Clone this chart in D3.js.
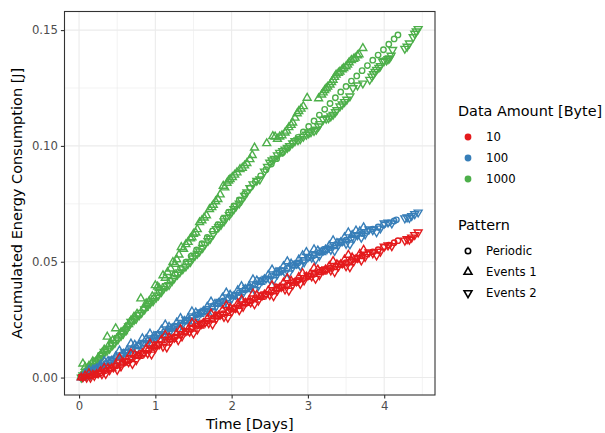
<!DOCTYPE html>
<html>
<head>
<meta charset="utf-8">
<script src="https://cdn.jsdelivr.net/npm/d3@7"></script>
<style>
body { margin: 0; background: #fff; }
text { font-family: "DejaVu Sans", sans-serif; }
</style>
</head>
<body>
<div id="chart"></div>
<script>
// categories and ticks
var amounts = ["10", "100", "1000"];
var patterns = ["Periodic", "Events 1", "Events 2"];
var xTicks = [0, 1, 2, 3, 4];
var yTicks = [0, 0.05, 0.10, 0.15];

// [days, joules]
var periodic10 = [[0.03,0],[0.07,0.0002],[0.14,0.0006],[0.21,0.0012],[0.28,0.0020],[0.35,0.0030],[0.42,0.0041],[0.49,0.0051],[0.56,0.0061],[0.63,0.0071],[0.70,0.0082],[0.77,0.0094],[0.84,0.0106],[0.91,0.0118],[0.98,0.0130],[1.05,0.0142],[1.12,0.0153],[1.19,0.0164],[1.26,0.0175],[1.33,0.0186],[1.40,0.0198],[1.47,0.0210],[1.54,0.0221],[1.61,0.0232],[1.68,0.0243],[1.75,0.0254],[1.82,0.0265],[1.89,0.0276],[1.96,0.0288],[2.03,0.0299],[2.10,0.0310],[2.17,0.0320],[2.24,0.0331],[2.31,0.0341],[2.38,0.0351],[2.45,0.0361],[2.52,0.0371],[2.59,0.0381],[2.66,0.0391],[2.73,0.0400],[2.80,0.0410],[2.87,0.0419],[2.94,0.0429],[3.01,0.0438],[3.08,0.0447],[3.15,0.0456],[3.22,0.0464],[3.29,0.0472],[3.36,0.0480],[3.43,0.0488],[3.50,0.0496],[3.57,0.0505],[3.64,0.0515],[3.71,0.0525],[3.78,0.0534],[3.85,0.0543],[3.92,0.0552],[3.99,0.0562],[4.06,0.0572],[4.13,0.0582],[4.18,0.0591]];
var events1_10 = [[0.03,0],[0.08,0.0008],[0.13,0.0018],[0.18,0.0011],[0.23,0.0014],[0.28,0.0027],[0.33,0.0041],[0.38,0.0040],[0.43,0.0040],[0.48,0.0056],[0.53,0.0085],[0.58,0.0064],[0.63,0.0076],[0.68,0.0104],[0.73,0.0099],[0.78,0.0093],[0.83,0.0104],[0.88,0.0123],[0.93,0.0146],[0.98,0.0135],[1.03,0.0139],[1.08,0.0162],[1.13,0.0183],[1.18,0.0173],[1.23,0.0166],[1.28,0.0190],[1.33,0.0208],[1.38,0.0195],[1.43,0.0208],[1.48,0.0236],[1.53,0.0231],[1.58,0.0224],[1.63,0.0235],[1.68,0.0253],[1.73,0.0276],[1.78,0.0264],[1.83,0.0267],[1.88,0.0290],[1.93,0.0311],[1.98,0.0301],[2.03,0.0294],[2.08,0.0319],[2.13,0.0336],[2.18,0.0322],[2.23,0.0334],[2.28,0.0362],[2.33,0.0356],[2.38,0.0348],[2.43,0.0358],[2.48,0.0375],[2.53,0.0398],[2.58,0.0385],[2.63,0.0387],[2.68,0.0409],[2.73,0.0428],[2.78,0.0417],[2.83,0.0409],[2.88,0.0433],[2.93,0.0450],[2.98,0.0435],[3.03,0.0446],[3.08,0.0472],[3.13,0.0466],[3.18,0.0457],[3.23,0.0466],[3.28,0.0481],[3.33,0.0502],[3.38,0.0488],[3.43,0.0488],[3.48,0.0509],[3.53,0.0529],[3.58,0.0518],[3.63,0.0510],[3.68,0.0534],[3.73,0.0551]];
var events2_10 = [[0.05,0.0002],[0.10,0],[0.15,0],[0.20,0.0008],[0.25,0.0018],[0.30,0.0015],[0.35,0.0016],[0.40,0.0033],[0.45,0.0044],[0.50,0.0034],[0.55,0.0049],[0.60,0.0070],[0.65,0.0067],[0.70,0.0059],[0.75,0.0076],[0.80,0.0100],[0.85,0.0106],[0.90,0.0105],[0.95,0.0100],[1.00,0.0127],[1.05,0.0144],[1.10,0.0134],[1.15,0.0131],[1.20,0.0157],[1.25,0.0173],[1.30,0.0162],[1.35,0.0178],[1.40,0.0201],[1.45,0.0199],[1.50,0.0191],[1.55,0.0208],[1.60,0.0231],[1.65,0.0237],[1.70,0.0235],[1.75,0.0230],[1.80,0.0256],[1.85,0.0272],[1.90,0.0262],[1.95,0.0259],[2.00,0.0285],[2.05,0.0301],[2.10,0.0291],[2.15,0.0306],[2.20,0.0328],[2.25,0.0325],[2.30,0.0317],[2.35,0.0333],[2.40,0.0355],[2.45,0.0360],[2.50,0.0357],[2.55,0.0352],[2.60,0.0377],[2.65,0.0392],[2.70,0.0381],[2.75,0.0376],[2.80,0.0401],[2.85,0.0416],[2.90,0.0405],[2.95,0.0420],[3.00,0.0441],[3.05,0.0437],[3.10,0.0427],[3.15,0.0443],[3.20,0.0464],[3.25,0.0468],[3.30,0.0463],[3.35,0.0456],[3.40,0.0480],[3.45,0.0493],[3.50,0.0481],[3.55,0.0477],[3.60,0.0502],[3.65,0.0517],[3.70,0.0506],[3.75,0.0521],[3.80,0.0541],[3.85,0.0537],[3.90,0.0528],[3.95,0.0544],[4.00,0.0566],[4.05,0.0571],[4.10,0.0568],[4.27,0.0592],[4.30,0.0598],[4.33,0.0596],[4.36,0.0605],[4.40,0.0616],[4.445,0.0627]];

var periodic100 = [[0.03,0],[0.07,0.0010],[0.14,0.0022],[0.21,0.0035],[0.28,0.0048],[0.35,0.0061],[0.42,0.0074],[0.49,0.0087],[0.56,0.0099],[0.63,0.0112],[0.70,0.0124],[0.77,0.0137],[0.84,0.0149],[0.91,0.0161],[0.98,0.0173],[1.05,0.0186],[1.12,0.0198],[1.19,0.0210],[1.26,0.0222],[1.33,0.0234],[1.40,0.0246],[1.47,0.0258],[1.54,0.0270],[1.61,0.0283],[1.68,0.0295],[1.75,0.0307],[1.82,0.0319],[1.89,0.0331],[1.96,0.0343],[2.03,0.0355],[2.10,0.0367],[2.17,0.0379],[2.24,0.0391],[2.31,0.0403],[2.38,0.0415],[2.45,0.0427],[2.52,0.0439],[2.59,0.0451],[2.66,0.0462],[2.73,0.0473],[2.80,0.0484],[2.87,0.0495],[2.94,0.0506],[3.01,0.0517],[3.08,0.0528],[3.15,0.0539],[3.22,0.0550],[3.29,0.0561],[3.36,0.0572],[3.43,0.0583],[3.50,0.0593],[3.57,0.0603],[3.64,0.0613],[3.71,0.0622],[3.78,0.0632],[3.85,0.0641],[3.92,0.0650],[3.99,0.0659],[4.06,0.0668],[4.13,0.0676],[4.16,0.0681]];
var events1_100 = [[0.03,0],[0.08,0.0017],[0.13,0.0033],[0.18,0.0033],[0.23,0.0039],[0.28,0.0055],[0.33,0.0071],[0.38,0.0071],[0.43,0.0073],[0.48,0.0091],[0.53,0.0116],[0.58,0.0102],[0.63,0.0117],[0.68,0.0146],[0.73,0.0141],[0.78,0.0135],[0.83,0.0169],[0.88,0.0166],[0.93,0.0189],[0.98,0.0178],[1.03,0.0182],[1.08,0.0206],[1.13,0.0228],[1.18,0.0218],[1.23,0.0212],[1.28,0.0237],[1.33,0.0256],[1.38,0.0243],[1.43,0.0256],[1.48,0.0285],[1.53,0.0280],[1.58,0.0274],[1.63,0.0286],[1.68,0.0305],[1.73,0.0328],[1.78,0.0317],[1.83,0.0321],[1.88,0.0344],[1.93,0.0366],[1.98,0.0357],[2.03,0.0350],[2.08,0.0376],[2.13,0.0394],[2.18,0.0381],[2.23,0.0394],[2.28,0.0423],[2.33,0.0418],[2.38,0.0412],[2.43,0.0424],[2.48,0.0442],[2.53,0.0466],[2.58,0.0454],[2.63,0.0457],[2.68,0.0480],[2.73,0.0501],[2.78,0.0491],[2.83,0.0484],[2.88,0.0509],[2.93,0.0527],[2.98,0.0541],[3.03,0.0526],[3.08,0.0553],[3.13,0.0548],[3.18,0.0541],[3.23,0.0552],[3.28,0.0569],[3.33,0.0592],[3.38,0.0580],[3.43,0.0583],[3.48,0.0605],[3.53,0.0626],[3.58,0.0615],[3.63,0.0634],[3.68,0.0631],[3.73,0.0648]];
var events2_100 = [[0.05,0.0003],[0.10,0.0010],[0.15,0.0012],[0.20,0.0031],[0.25,0.0044],[0.30,0.0044],[0.35,0.0047],[0.40,0.0065],[0.45,0.0079],[0.50,0.0070],[0.55,0.0087],[0.60,0.0109],[0.65,0.0109],[0.70,0.0102],[0.75,0.0119],[0.80,0.0143],[0.85,0.0150],[0.90,0.0149],[0.95,0.0144],[1.00,0.0171],[1.05,0.0188],[1.10,0.0179],[1.15,0.0177],[1.20,0.0203],[1.25,0.0220],[1.30,0.0210],[1.35,0.0227],[1.40,0.0250],[1.45,0.0248],[1.50,0.0241],[1.55,0.0258],[1.60,0.0282],[1.65,0.0289],[1.70,0.0288],[1.75,0.0283],[1.80,0.0310],[1.85,0.0327],[1.90,0.0317],[1.95,0.0315],[2.00,0.0342],[2.05,0.0358],[2.10,0.0349],[2.15,0.0365],[2.20,0.0388],[2.25,0.0386],[2.30,0.0379],[2.35,0.0396],[2.40,0.0420],[2.45,0.0427],[2.50,0.0425],[2.55,0.0421],[2.60,0.0447],[2.65,0.0463],[2.70,0.0453],[2.75,0.0450],[2.80,0.0476],[2.85,0.0492],[2.90,0.0482],[2.95,0.0498],[3.00,0.0520],[3.05,0.0518],[3.10,0.0509],[3.15,0.0526],[3.20,0.0549],[3.25,0.0555],[3.30,0.0552],[3.35,0.0547],[3.40,0.0573],[3.45,0.0589],[3.50,0.0578],[3.55,0.0575],[3.60,0.0600],[3.65,0.0615],[3.70,0.0604],[3.75,0.0619],[3.80,0.0640],[3.85,0.0637],[3.90,0.0628],[3.95,0.0644],[4.00,0.0666],[4.05,0.0670],[4.10,0.0666],[4.27,0.0688],[4.30,0.0692],[4.33,0.0690],[4.36,0.0698],[4.40,0.0706],[4.445,0.0713]];

var periodic1000 = [[0.03,0],[0.07,0.0024],[0.14,0.0049],[0.21,0.0073],[0.28,0.0098],[0.35,0.0122],[0.42,0.0147],[0.49,0.0171],[0.56,0.0196],[0.63,0.0220],[0.70,0.0245],[0.77,0.0270],[0.84,0.0294],[0.91,0.0319],[0.98,0.0343],[1.05,0.0369],[1.12,0.0395],[1.19,0.0421],[1.26,0.0447],[1.33,0.0472],[1.40,0.0498],[1.47,0.0524],[1.54,0.0551],[1.61,0.0578],[1.68,0.0605],[1.75,0.0633],[1.82,0.0660],[1.89,0.0687],[1.96,0.0714],[2.03,0.0741],[2.10,0.0767],[2.17,0.0793],[2.24,0.0819],[2.31,0.0845],[2.38,0.0871],[2.45,0.0897],[2.52,0.0922],[2.59,0.0945],[2.66,0.0968],[2.73,0.0991],[2.80,0.1014],[2.87,0.1037],[2.94,0.1060],[3.01,0.1084],[3.08,0.1108],[3.15,0.1133],[3.22,0.1158],[3.29,0.1183],[3.36,0.1208],[3.43,0.1233],[3.50,0.1257],[3.57,0.1280],[3.64,0.1302],[3.71,0.1325],[3.78,0.1347],[3.85,0.1370],[3.92,0.1392],[3.99,0.1415],[4.06,0.1439],[4.13,0.1462],[4.18,0.1479]];
var events1_1000 = [[0.03,0.0004],[0.05,0.0060],[0.08,0.0045],[0.10,0.0030],[0.13,0.0050],[0.15,0.0045],[0.18,0.0070],[0.20,0.0060],[0.23,0.0068],[0.25,0.0085],[0.28,0.0095],[0.30,0.0105],[0.33,0.0120],[0.37,0.0176],[0.40,0.0145],[0.44,0.0160],[0.48,0.0212],[0.52,0.0180],[0.55,0.0195],[0.58,0.0200],[0.61,0.0215],[0.65,0.0230],[0.68,0.0245],[0.72,0.0262],[0.76,0.0275],[0.81,0.0341],[0.85,0.0300],[0.88,0.0320],[0.92,0.0330],[0.96,0.0350],[1.00,0.0398],[1.03,0.0392],[1.05,0.0385],[1.10,0.0441],[1.13,0.0430],[1.16,0.0455],[1.20,0.0470],[1.23,0.0498],[1.26,0.0490],[1.28,0.0510],[1.31,0.0530],[1.34,0.0563],[1.37,0.0555],[1.40,0.0575],[1.43,0.0585],[1.46,0.0600],[1.48,0.0605],[1.50,0.0620],[1.53,0.0625],[1.55,0.0640],[1.58,0.0670],[1.61,0.0678],[1.64,0.0690],[1.67,0.0700],[1.71,0.0727],[1.74,0.0735],[1.76,0.0745],[1.79,0.0760],[1.82,0.0770],[1.85,0.0790],[1.89,0.0827],[1.91,0.0820],[1.94,0.0840],[1.96,0.0850],[1.98,0.0856],[2.01,0.0865],[2.04,0.0875],[2.07,0.0885],[2.11,0.0899],[2.14,0.0905],[2.17,0.0915],[2.20,0.0925],[2.24,0.0942],[2.27,0.0960],[2.30,0.0992],[2.46,0.1011],[2.54,0.1042],[2.57,0.1040],[2.60,0.1030],[2.63,0.1040],[2.66,0.1045],[2.70,0.1057],[2.72,0.1065],[2.75,0.1080],[2.78,0.1090],[2.80,0.1100],[2.83,0.1121],[2.86,0.1140],[2.88,0.1150],[2.91,0.1160],[2.94,0.1171],[2.99,0.1207],[3.14,0.1205],[3.18,0.1221],[3.20,0.1230],[3.22,0.1240],[3.24,0.1248],[3.26,0.1255],[3.29,0.1264],[3.31,0.1275],[3.33,0.1285],[3.35,0.1297],[3.37,0.1307],[3.40,0.1315],[3.42,0.1320],[3.45,0.1330],[3.47,0.1335],[3.50,0.1343],[3.52,0.1350],[3.54,0.1360],[3.57,0.1370],[3.60,0.1375],[3.62,0.1380],[3.65,0.1390],[3.67,0.1395],[3.72,0.1422]];
var events2_1000 = [[0.03,0],[0.05,0.0010],[0.08,0.0015],[0.12,0.0030],[0.15,0.0040],[0.18,0.0050],[0.22,0.0062],[0.25,0.0070],[0.28,0.0080],[0.31,0.0095],[0.33,0.0112],[0.37,0.0118],[0.40,0.0125],[0.44,0.0140],[0.47,0.0150],[0.51,0.0165],[0.55,0.0180],[0.58,0.0190],[0.62,0.0205],[0.65,0.0222],[0.68,0.0241],[0.72,0.0248],[0.75,0.0255],[0.79,0.0270],[0.82,0.0280],[0.86,0.0295],[0.90,0.0310],[0.93,0.0320],[0.97,0.0330],[1.01,0.0345],[1.04,0.0355],[1.08,0.0370],[1.11,0.0384],[1.15,0.0395],[1.18,0.0400],[1.22,0.0418],[1.25,0.0430],[1.29,0.0445],[1.32,0.0455],[1.36,0.0468],[1.40,0.0480],[1.43,0.0492],[1.46,0.0500],[1.49,0.0515],[1.52,0.0527],[1.55,0.0535],[1.58,0.0545],[1.62,0.0560],[1.65,0.0575],[1.69,0.0590],[1.72,0.0600],[1.76,0.0620],[1.80,0.0641],[1.83,0.0650],[1.86,0.0660],[1.90,0.0675],[1.93,0.0690],[1.97,0.0702],[2.00,0.0715],[2.03,0.0728],[2.06,0.0740],[2.10,0.0752],[2.13,0.0765],[2.17,0.0785],[2.20,0.0800],[2.24,0.0818],[2.28,0.0835],[2.33,0.0850],[2.37,0.0856],[2.43,0.0890],[2.47,0.0910],[2.50,0.0928],[2.53,0.0938],[2.56,0.0945],[2.60,0.0960],[2.63,0.0971],[2.67,0.0978],[2.70,0.0985],[2.73,0.0992],[2.76,0.1000],[2.80,0.1012],[2.83,0.1021],[2.87,0.1025],[2.90,0.1030],[2.94,0.1040],[2.98,0.1049],[3.01,0.1055],[3.04,0.1060],[3.08,0.1065],[3.11,0.1071],[3.14,0.1085],[3.16,0.1095],[3.20,0.1114],[3.24,0.1118],[3.27,0.1120],[3.30,0.1128],[3.33,0.1135],[3.36,0.1146],[3.38,0.1155],[3.42,0.1171],[3.45,0.1180],[3.48,0.1190],[3.51,0.1200],[3.55,0.1214],[3.59,0.1250],[3.65,0.1262],[3.72,0.1270],[3.81,0.1286],[3.84,0.1300],[3.86,0.1310],[3.88,0.1320],[3.90,0.1329],[3.93,0.1338],[3.95,0.1345],[3.98,0.1364],[4.00,0.1367],[4.03,0.1370],[4.05,0.1375],[4.07,0.1379],[4.09,0.1390],[4.11,0.1415],[4.27,0.1420],[4.30,0.1429],[4.33,0.1443],[4.38,0.1470],[4.40,0.1485],[4.42,0.1495],[4.445,0.1505]];

// table of series, drawing order as in the plot
var series = [
	{amount: "1000", pattern: "Periodic", values: periodic1000},
	{amount: "1000", pattern: "Events 1", values: events1_1000},
	{amount: "1000", pattern: "Events 2", values: events2_1000},
	{amount: "100", pattern: "Periodic", values: periodic100},
	{amount: "100", pattern: "Events 1", values: events1_100},
	{amount: "100", pattern: "Events 2", values: events2_100},
	{amount: "10", pattern: "Periodic", values: periodic10},
	{amount: "10", pattern: "Events 1", values: events1_10},
	{amount: "10", pattern: "Events 2", values: events2_10}
];

var width = 605, height = 433;
var panel = {left: 64.5, right: 435, top: 11.5, bottom: 395};

var svg = d3.select("#chart").append("svg")
	.attr("width", width)
	.attr("height", height)
	.style("display", "block");
svg.append("rect").attr("width", width).attr("height", height).attr("fill", "#fff");

// ggplot style 5% expansion of the data range
var allPts = [];
for (s of series) allPts = allPts.concat(s.values);
var xExt = d3.extent(allPts, function(d) { return d[0]; });
var yExt = d3.extent(allPts, function(d) { return d[1]; });
var xPad = (xExt[1] - xExt[0]) * 0.05, yPad = (yExt[1] - yExt[0]) * 0.05;

var x = d3.scaleLinear().domain([xExt[0] - xPad, xExt[1] + xPad]).range([panel.left, panel.right]);
var y = d3.scaleLinear().domain([yExt[0] - yPad, yExt[1] + yPad]).range([panel.bottom, panel.top]);

var color = d3.scaleOrdinal().domain(amounts).range(["#E41A1C", "#377EB8", "#4DAF4A"]);

// grid
var grid = svg.append("g");
var xMinor = xTicks.map(function(t) { return t + 0.5; }).filter(function(t) { return t < x.domain()[1]; });
var yMinor = yTicks.map(function(t) { return t + 0.025; }).filter(function(t) { return t < y.domain()[1]; });
grid.selectAll(".xm").data(xMinor).enter().append("line")
	.attr("x1", function(d) { return x(d); }).attr("x2", function(d) { return x(d); })
	.attr("y1", panel.top).attr("y2", panel.bottom)
	.attr("stroke", "#ebebeb").attr("stroke-width", 0.6);
grid.selectAll(".ym").data(yMinor).enter().append("line")
	.attr("y1", function(d) { return y(d); }).attr("y2", function(d) { return y(d); })
	.attr("x1", panel.left).attr("x2", panel.right)
	.attr("stroke", "#ebebeb").attr("stroke-width", 0.6);
grid.selectAll(".xM").data(xTicks).enter().append("line")
	.attr("x1", function(d) { return x(d); }).attr("x2", function(d) { return x(d); })
	.attr("y1", panel.top).attr("y2", panel.bottom)
	.attr("stroke", "#ebebeb").attr("stroke-width", 1.1);
grid.selectAll(".yM").data(yTicks).enter().append("line")
	.attr("y1", function(d) { return y(d); }).attr("y2", function(d) { return y(d); })
	.attr("x1", panel.left).attr("x2", panel.right)
	.attr("stroke", "#ebebeb").attr("stroke-width", 1.1);

// points
var shapes = {
	"Periodic": d3.symbol().type(d3.symbolCircle).size(23),
	"Events 1": d3.symbol().type(d3.symbolTriangle).size(27),
	"Events 2": d3.symbol().type(d3.symbolTriangle).size(27)
};
var points = svg.append("g");
for (s of series) {
	let rot = s.pattern == "Events 2" ? " rotate(180)" : "";
	points.append("g").selectAll("path").data(s.values).enter().append("path")
		.attr("d", shapes[s.pattern]())
		.attr("transform", function(d) { return "translate(" + x(d[0]) + "," + y(d[1]) + ")" + rot; })
		.attr("fill", "none")
		.attr("stroke", color(s.amount))
		.attr("stroke-width", 1.4);
}

// border
svg.append("rect")
	.attr("x", panel.left).attr("y", panel.top)
	.attr("width", panel.right - panel.left).attr("height", panel.bottom - panel.top)
	.attr("fill", "none").attr("stroke", "#333").attr("stroke-width", 1.1);

// axes
svg.append("g")
	.attr("transform", "translate(0," + panel.bottom + ")")
	.call(d3.axisBottom(x).tickValues(xTicks).tickFormat(d3.format("d")).tickSize(3.6).tickPadding(3));
svg.append("g")
	.attr("transform", "translate(" + panel.left + ",0)")
	.call(d3.axisLeft(y).tickValues(yTicks).tickFormat(d3.format(".2f")).tickSize(3.6).tickPadding(3));
svg.selectAll(".domain").remove();
svg.selectAll(".tick line").attr("stroke", "#333").attr("stroke-width", 1.1);
svg.selectAll(".tick text")
	.attr("fill", "#4d4d4d")
	.style("font-size", "11.7px")
	.style("font-family", "DejaVu Sans, sans-serif");

// axis titles
svg.append("text")
	.attr("x", (panel.left + panel.right) / 2).attr("y", 424)
	.attr("text-anchor", "middle").attr("dominant-baseline", "central")
	.style("font-size", "14.5px").attr("fill", "#000")
	.text("Time [Days]");
svg.append("text")
	.attr("transform", "translate(17," + ((panel.top + panel.bottom) / 2) + ") rotate(-90)")
	.attr("text-anchor", "middle").attr("dominant-baseline", "central")
	.style("font-size", "14.5px").attr("fill", "#000")
	.text("Accumulated Energy Consumption [J]");

// legends
var leg = svg.append("g");
leg.append("text").attr("x", 458).attr("y", 111).attr("dominant-baseline", "central")
	.style("font-size", "14.4px").text("Data Amount [Byte]");
amounts.forEach(function(a, i) {
	leg.append("circle").attr("cx", 468).attr("cy", 137 + i * 21).attr("r", 3.4).attr("fill", color(a));
	leg.append("text").attr("x", 486).attr("y", 137 + i * 21).attr("dominant-baseline", "central")
		.style("font-size", "11.7px").text(a);
});
leg.append("text").attr("x", 458).attr("y", 225).attr("dominant-baseline", "central")
	.style("font-size", "14.4px").text("Pattern");
patterns.forEach(function(p, i) {
	let rot = p == "Events 2" ? " rotate(180)" : "";
	leg.append("path").attr("d", shapes[p]())
		.attr("transform", "translate(468," + (251 + i * 21) + ")" + rot)
		.attr("fill", "none").attr("stroke", "#000").attr("stroke-width", 1.6);
	leg.append("text").attr("x", 486).attr("y", 251 + i * 21).attr("dominant-baseline", "central")
		.style("font-size", "11.7px").text(p);
});
</script>
</body>
</html>
